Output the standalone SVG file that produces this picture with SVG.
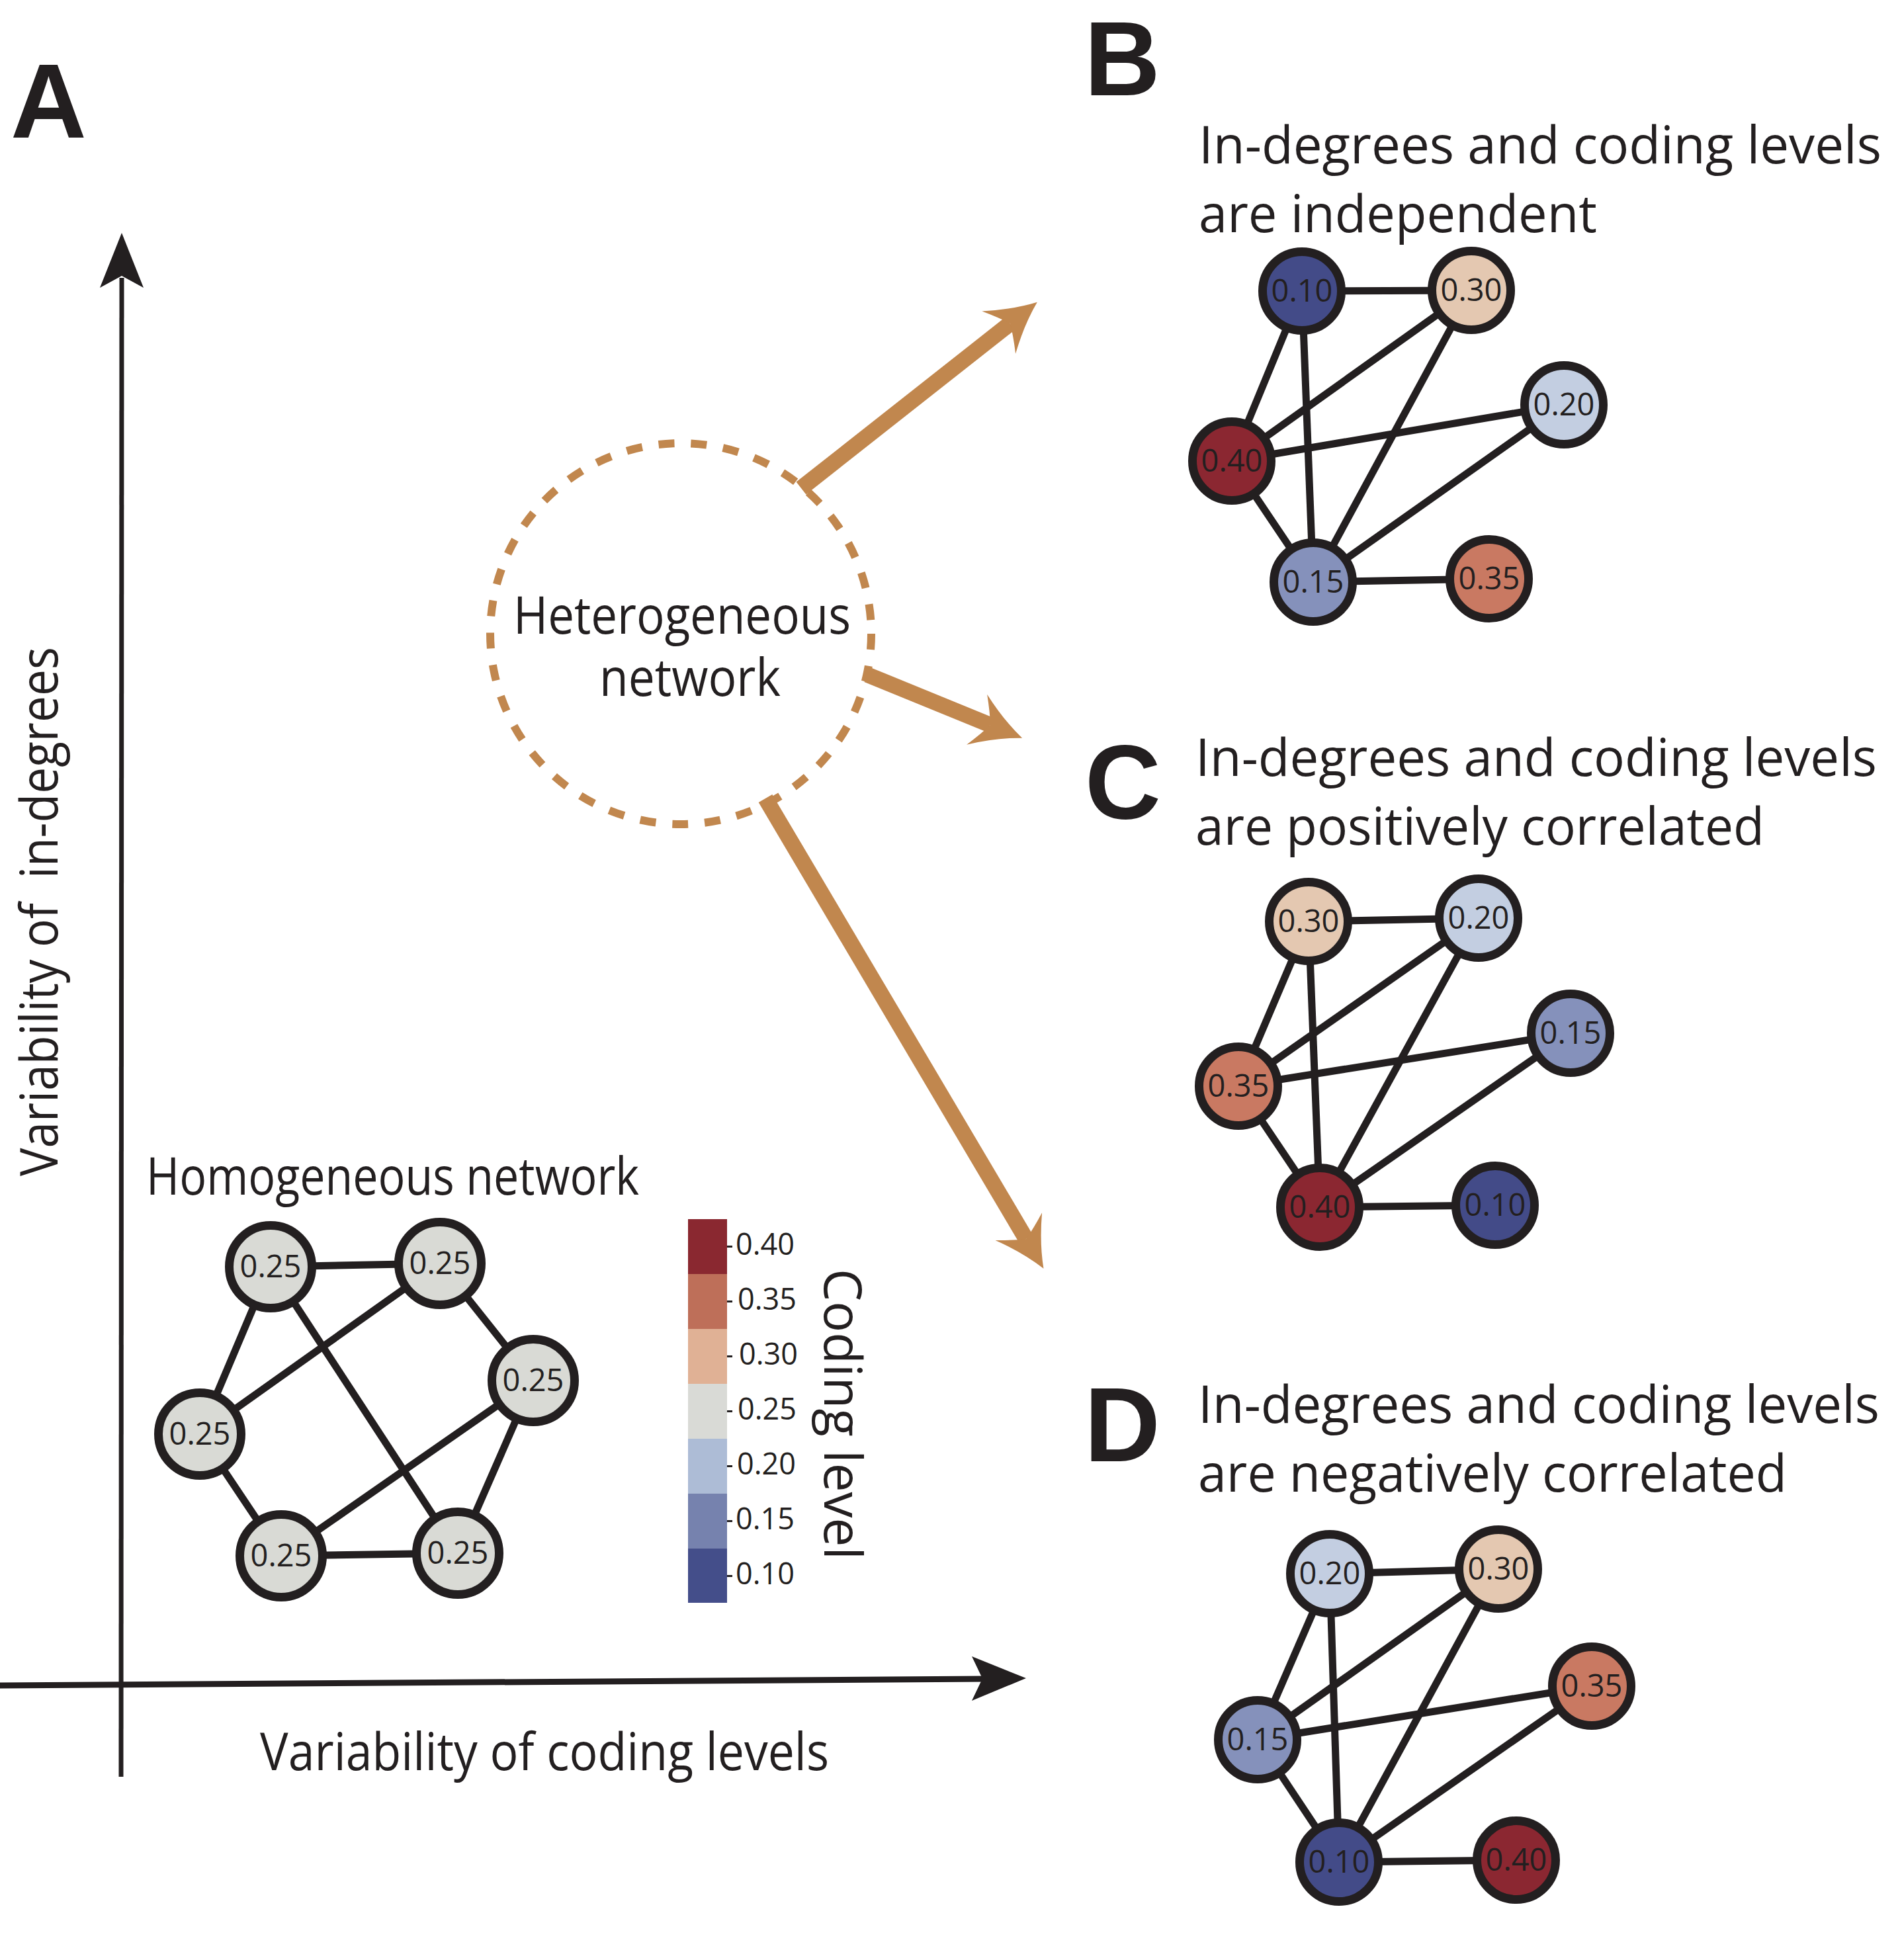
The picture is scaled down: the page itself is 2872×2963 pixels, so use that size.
<svg xmlns="http://www.w3.org/2000/svg" width="2872" height="2963" viewBox="0 0 2872 2963">
<style>
.lab{font-family:"Liberation Sans",Arial,sans-serif;font-weight:bold;font-size:159px;fill:#231f20}
.t{font-family:"Open Sans","Noto Sans",sans-serif;font-size:78px;fill:#231f20}
.nl{font-family:"Open Sans","Noto Sans",sans-serif;font-size:47px;fill:#231f20;text-anchor:middle}
.tk{font-family:"Open Sans","Noto Sans",sans-serif;font-size:45px;fill:#231f20}
.edge{stroke:#231f20;stroke-width:11;fill:none}
.node{stroke:#231f20;stroke-width:13}
.hn{stroke:#231f20;stroke-width:13;fill:#d9dad5}
.v10{fill:#434b88}.v15{fill:#8591bb}.v20{fill:#c3cee1}.v30{fill:#e4c8b1}.v35{fill:#c97962}.v40{fill:#8b2731}
.orange{stroke:#c1874e;stroke-width:24;fill:none}
</style>
<defs>
<marker id="oh" markerUnits="userSpaceOnUse" orient="auto" refX="22" refY="0" markerWidth="100" markerHeight="100" overflow="visible">
<path d="M74,0 Q38,-14 0,-41 Q14,-18 22,0 Q14,18 0,41 Q38,14 74,0 Z" fill="#c1874e"/>
</marker>
</defs>
<rect width="2872" height="2963" fill="#ffffff"/>

<!-- panel labels -->
<text class="lab" x="16" y="208">A</text>
<text class="lab" x="1639" y="144">B</text>
<text class="lab" x="1640" y="1237">C</text>
<text class="lab" x="1639" y="2209">D</text>

<!-- axes -->
<g id="axes">
<line x1="183" y1="2686" x2="184" y2="420" stroke="#231f20" stroke-width="7"/>
<polygon points="184,352 151,435 184,417 217,435" fill="#231f20"/>
<line x1="0" y1="2548" x2="1488" y2="2538" stroke="#231f20" stroke-width="9"/>
<polygon points="1551,2537 1469,2504 1485,2537.5 1469,2571" fill="#231f20"/>
<text class="t" x="393" y="2676" textLength="860" lengthAdjust="spacingAndGlyphs">Variability of coding levels</text>
<text class="t" transform="translate(87,1378) rotate(-90)" text-anchor="middle" textLength="800" lengthAdjust="spacingAndGlyphs" xml:space="preserve">Variability of  in-degrees</text>
</g>

<!-- heterogeneous network -->
<g id="hetero">
<circle cx="1029" cy="958" r="288" fill="none" stroke="#c1874e" stroke-width="12" stroke-dasharray="24 25"/>
<text class="t" x="1031" y="958" text-anchor="middle" font-size="76" textLength="510" lengthAdjust="spacingAndGlyphs">Heterogeneous</text>
<text class="t" x="1043" y="1052" text-anchor="middle" font-size="76" textLength="274" lengthAdjust="spacingAndGlyphs">network</text>
</g>

<g id="orange-arrows">
<line class="orange" x1="1211" y1="738" x2="1527" y2="489" marker-end="url(#oh)"/>
<line class="orange" x1="1311" y1="1020" x2="1497" y2="1096" marker-end="url(#oh)"/>
<line class="orange" x1="1157" y1="1207" x2="1551" y2="1873" marker-end="url(#oh)"/>
</g>

<!-- titles -->
<text class="t" x="1812" y="247" textLength="1032" lengthAdjust="spacingAndGlyphs">In-degrees and coding levels</text>
<text class="t" x="1812" y="351" textLength="602" lengthAdjust="spacingAndGlyphs">are independent</text>
<text class="t" x="1807" y="1173" textLength="1030" lengthAdjust="spacingAndGlyphs">In-degrees and coding levels</text>
<text class="t" x="1807" y="1277" textLength="860" lengthAdjust="spacingAndGlyphs">are positively correlated</text>
<text class="t" x="1811" y="2151" textLength="1030" lengthAdjust="spacingAndGlyphs">In-degrees and coding levels</text>
<text class="t" x="1811" y="2255" textLength="890" lengthAdjust="spacingAndGlyphs">are negatively correlated</text>
<text class="t" x="221" y="1806" textLength="745" lengthAdjust="spacingAndGlyphs">Homogeneous network</text>

<!-- legend -->
<g id="colorbar">
<rect x="1040" y="1843" width="59" height="84" fill="#8a2830"/>
<rect x="1040" y="1926" width="59" height="84" fill="#be6f59"/>
<rect x="1040" y="2009" width="59" height="84" fill="#e0b195"/>
<rect x="1040" y="2092" width="59" height="84" fill="#d9dad6"/>
<rect x="1040" y="2175" width="59" height="84" fill="#adbcd6"/>
<rect x="1040" y="2258" width="59" height="84" fill="#7682ae"/>
<rect x="1040" y="2341" width="59" height="82" fill="#444e8a"/>
<g stroke="#231f20" stroke-width="3">
<line x1="1099" y1="1884.5" x2="1107" y2="1884.5"/>
<line x1="1099" y1="1967.5" x2="1107" y2="1967.5"/>
<line x1="1099" y1="2050.5" x2="1107" y2="2050.5"/>
<line x1="1099" y1="2133.5" x2="1107" y2="2133.5"/>
<line x1="1099" y1="2216.5" x2="1107" y2="2216.5"/>
<line x1="1099" y1="2299.5" x2="1107" y2="2299.5"/>
<line x1="1099" y1="2382.5" x2="1107" y2="2382.5"/>
</g>
<text class="tk" x="1112" y="1897">0.40</text>
<text class="tk" x="1115" y="1980">0.35</text>
<text class="tk" x="1117" y="2063">0.30</text>
<text class="tk" x="1115" y="2146">0.25</text>
<text class="tk" x="1114" y="2229">0.20</text>
<text class="tk" x="1112" y="2312">0.15</text>
<text class="tk" x="1112" y="2395">0.10</text>
<text class="t" transform="translate(1246,2138) rotate(90)" text-anchor="middle" font-size="76">Coding level</text>
</g>

<!-- connectors -->
<g id="connectors">
<g id="edges-A">
<line class="edge" x1="409" y1="1915" x2="665" y2="1910"/>
<line class="edge" x1="409" y1="1915" x2="302" y2="2168"/>
<line class="edge" x1="409" y1="1915" x2="692" y2="2348"/>
<line class="edge" x1="665" y1="1910" x2="302" y2="2168"/>
<line class="edge" x1="665" y1="1910" x2="806" y2="2087"/>
<line class="edge" x1="806" y1="2087" x2="425" y2="2352"/>
<line class="edge" x1="806" y1="2087" x2="692" y2="2348"/>
<line class="edge" x1="302" y1="2168" x2="425" y2="2352"/>
<line class="edge" x1="425" y1="2352" x2="692" y2="2348"/>
</g>
<g id="edges-B">
<line class="edge" x1="1968" y1="440" x2="2224" y2="439"/>
<line class="edge" x1="1968" y1="440" x2="1862" y2="697"/>
<line class="edge" x1="1968" y1="440" x2="1985" y2="880"/>
<line class="edge" x1="2224" y1="439" x2="1862" y2="697"/>
<line class="edge" x1="2224" y1="439" x2="1985" y2="880"/>
<line class="edge" x1="2364" y1="612" x2="1862" y2="697"/>
<line class="edge" x1="2364" y1="612" x2="1985" y2="880"/>
<line class="edge" x1="1862" y1="697" x2="1985" y2="880"/>
<line class="edge" x1="1985" y1="880" x2="2251" y2="875"/>
</g>
<g id="edges-C">
<line class="edge" x1="1978" y1="1393" x2="2235" y2="1388"/>
<line class="edge" x1="1978" y1="1393" x2="1872" y2="1642"/>
<line class="edge" x1="1978" y1="1393" x2="1995" y2="1825"/>
<line class="edge" x1="2235" y1="1388" x2="1872" y2="1642"/>
<line class="edge" x1="2235" y1="1388" x2="1995" y2="1825"/>
<line class="edge" x1="2374" y1="1562" x2="1872" y2="1642"/>
<line class="edge" x1="2374" y1="1562" x2="1995" y2="1825"/>
<line class="edge" x1="1872" y1="1642" x2="1995" y2="1825"/>
<line class="edge" x1="1995" y1="1825" x2="2260" y2="1822"/>
</g>
<g id="edges-D">
<line class="edge" x1="2010" y1="2379" x2="2265" y2="2372"/>
<line class="edge" x1="2010" y1="2379" x2="1901" y2="2630"/>
<line class="edge" x1="2010" y1="2379" x2="2024" y2="2815"/>
<line class="edge" x1="2265" y1="2372" x2="1901" y2="2630"/>
<line class="edge" x1="2265" y1="2372" x2="2024" y2="2815"/>
<line class="edge" x1="2406" y1="2549" x2="1901" y2="2630"/>
<line class="edge" x1="2406" y1="2549" x2="2024" y2="2815"/>
<line class="edge" x1="1901" y1="2630" x2="2024" y2="2815"/>
<line class="edge" x1="2024" y1="2815" x2="2292" y2="2812"/>
</g>
</g>

<!-- homogeneous nodes -->
<g id="a1"><circle class="hn" cx="409" cy="1915" r="62.5"/><text class="nl" x="409" y="1931">0.25</text></g>
<g id="a2"><circle class="hn" cx="665" cy="1910" r="62.5"/><text class="nl" x="665" y="1926">0.25</text></g>
<g id="a3"><circle class="hn" cx="806" cy="2087" r="62.5"/><text class="nl" x="806" y="2103">0.25</text></g>
<g id="a4"><circle class="hn" cx="302" cy="2168" r="62.5"/><text class="nl" x="302" y="2184">0.25</text></g>
<g id="a5"><circle class="hn" cx="425" cy="2352" r="62.5"/><text class="nl" x="425" y="2368">0.25</text></g>
<g id="a6"><circle class="hn" cx="692" cy="2348" r="62.5"/><text class="nl" x="692" y="2364">0.25</text></g>

<!-- B nodes -->
<g id="b10"><circle class="node v10" cx="1968" cy="440" r="59.5"/><text class="nl" x="1968" y="456">0.10</text></g>
<g id="b30"><circle class="node v30" cx="2224" cy="439" r="59.5"/><text class="nl" x="2224" y="455">0.30</text></g>
<g id="b20"><circle class="node v20" cx="2364" cy="612" r="59.5"/><text class="nl" x="2364" y="628">0.20</text></g>
<g id="b40"><circle class="node v40" cx="1862" cy="697" r="59.5"/><text class="nl" x="1862" y="713">0.40</text></g>
<g id="b15"><circle class="node v15" cx="1985" cy="880" r="59.5"/><text class="nl" x="1985" y="896">0.15</text></g>
<g id="b35"><circle class="node v35" cx="2251" cy="875" r="59.5"/><text class="nl" x="2251" y="891">0.35</text></g>

<!-- C nodes -->
<g id="c30"><circle class="node v30" cx="1978" cy="1393" r="59.5"/><text class="nl" x="1978" y="1409">0.30</text></g>
<g id="c20"><circle class="node v20" cx="2235" cy="1388" r="59.5"/><text class="nl" x="2235" y="1404">0.20</text></g>
<g id="c15"><circle class="node v15" cx="2374" cy="1562" r="59.5"/><text class="nl" x="2374" y="1578">0.15</text></g>
<g id="c35"><circle class="node v35" cx="1872" cy="1642" r="59.5"/><text class="nl" x="1872" y="1658">0.35</text></g>
<g id="c40"><circle class="node v40" cx="1995" cy="1825" r="59.5"/><text class="nl" x="1995" y="1841">0.40</text></g>
<g id="c10"><circle class="node v10" cx="2260" cy="1822" r="59.5"/><text class="nl" x="2260" y="1838">0.10</text></g>

<!-- D nodes -->
<g id="d20"><circle class="node v20" cx="2010" cy="2379" r="59.5"/><text class="nl" x="2010" y="2395">0.20</text></g>
<g id="d30"><circle class="node v30" cx="2265" cy="2372" r="59.5"/><text class="nl" x="2265" y="2388">0.30</text></g>
<g id="d35"><circle class="node v35" cx="2406" cy="2549" r="59.5"/><text class="nl" x="2406" y="2565">0.35</text></g>
<g id="d15"><circle class="node v15" cx="1901" cy="2630" r="59.5"/><text class="nl" x="1901" y="2646">0.15</text></g>
<g id="d10"><circle class="node v10" cx="2024" cy="2815" r="59.5"/><text class="nl" x="2024" y="2831">0.10</text></g>
<g id="d40"><circle class="node v40" cx="2292" cy="2812" r="59.5"/><text class="nl" x="2292" y="2828">0.40</text></g>
</svg>
